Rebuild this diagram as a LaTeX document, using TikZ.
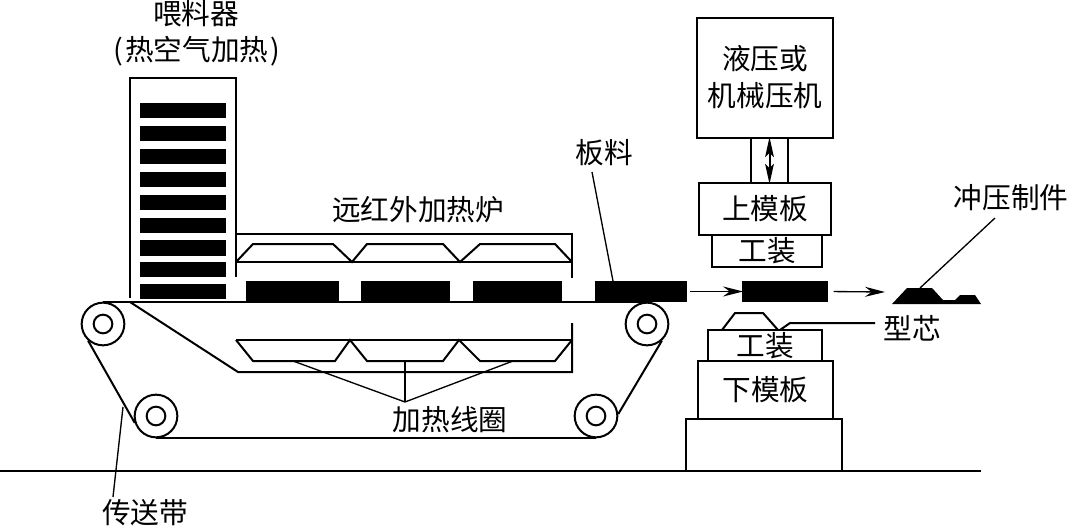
\documentclass[tikz,border=0pt]{standalone}
\usepackage{fontspec}
\setmainfont{Noto Sans CJK SC}
\usetikzlibrary{arrows.meta}
\tikzset{
  x=0.75pt,y=-0.75pt,
  ln/.style={draw=black,line width=1.5pt,line join=miter},
  thinln/.style={draw=black,line width=1pt},
  lab/.style={inner sep=0pt,font=\fontsize{21.5}{28.5}\selectfont,align=center,text=black},
  bar/.style={fill=black,draw=none,inner sep=0pt,minimum width=64.5pt,minimum height=11.5pt},
  sheet/.style={fill=black,draw=none,inner sep=0pt,minimum height=15.75pt,minimum width=#1*0.75pt},
  boxn/.style={ln,fill=white,inner sep=0pt,font=\fontsize{21.5}{28.5}\selectfont,align=center,text=black},
  rollo/.style={circle,ln,fill=white,inner sep=0pt,minimum size=32pt},
  rolli/.style={circle,ln,fill=white,inner sep=0pt,minimum size=14pt},
  flow/.style={thinln,-{Stealth[length=15pt,width=7.5pt,inset=5pt]}},
}
\begin{document}
\begin{tikzpicture}
\path[use as bounding box] (0,0) rectangle (1069,527);
% ground
\coordinate (g0) at (0,471); \coordinate (g1) at (981,471);
\draw[ln] (g0) -- (g1);
% feeder
\coordinate (fa) at (130,298); \coordinate (fb) at (130,78); \coordinate (fc) at (236,78); \coordinate (fd) at (236,277);
\draw[ln] (fa) -- (fb) -- (fc) -- (fd);
\foreach \i/\y in {a/110.5,b/133.5,c/156.5,d/179.5,e/202.5,f/225.5,g/248,h/269.5,j/291.5}{
  \node[bar] (bar\i) at (183,\y) {};
}
% upper furnace
\coordinate (ua) at (236,234); \coordinate (ub) at (572,234); \coordinate (uc) at (572,278);
\coordinate (ud) at (236,262); \coordinate (ue) at (572,262);
\draw[ln] (ua) -- (ub) -- (uc);
\draw[ln] (ud) -- (ue);
\draw[ln] (236,262) -- (253,244) -- (333,244) -- (352,262) -- (367,244) -- (443,244) -- (460,262) -- (480,244) -- (555,244) -- (572,262);
% sheets
\node[sheet=93] (sheetA) at (292.5,291.5) {};
\node[sheet=89] (sheetB) at (405.5,291.5) {};
\node[sheet=89] (sheetC) at (517.5,291.5) {};
\node[sheet=92] (sheetD) at (641,291.5) {};
\node[sheet=86] (sheetE) at (785,291.5) {};
% conveyor
\node[rollo] (rollA) at (103,324) {};
\node[rollo] (rollB) at (647,324) {};
\node[rollo] (rollC) at (156,416) {};
\node[rollo] (rollD) at (596,416) {};
\node[rolli] (hubA) at (103,324) {};
\node[rolli] (hubB) at (647,324) {};
\node[rolli] (hubC) at (156,416) {};
\node[rolli] (hubD) at (596,416) {};
\draw[ln] (rollA.90) -- (rollB.90);
\draw[ln] (rollC.270) -- (rollD.270);
\draw[ln] (rollA.228) -- (rollC.198);
\draw[ln] (rollB.312) -- (rollD.5);
% lower furnace
\coordinate (la) at (130,302); \coordinate (lb) at (238,372); \coordinate (lc) at (572,372); \coordinate (ld) at (572,323);
\draw[ln] (la) -- (lb) -- (lc) -- (ld);
\coordinate (le) at (236,340); \coordinate (lf) at (572,340);
\draw[ln] (le) -- (lf);
\draw[ln] (236,340) -- (253,361) -- (335,361) -- (350,340) -- (367,361) -- (443,361) -- (459,340) -- (480,361) -- (555,361) -- (572,340);
% press
\node[boxn,minimum width=102pt,minimum height=90pt] (press) at (765,78) {\raisebox{3pt}{\shortstack{液压或\\[5pt]机械压机}}};
\node[ln,fill=white,inner sep=0pt,minimum width=27.75pt,minimum height=33.75pt] (column) at (769.5,160.5) {};
\node[boxn,minimum width=99pt,minimum height=39pt] (upper) at (765,209) {上模板};
\node[boxn,minimum width=82.5pt,minimum height=24pt] (jigU) at (767,251) {工装};
\draw[draw=black,line width=1.5pt,{Stealth[length=15pt,width=6.5pt,inset=3pt]}-{Stealth[length=15pt,width=6.5pt,inset=3pt]}] (column.north) -- (column.south);
% lower stack
\coordinate (ca) at (722,330); \coordinate (cb) at (735,313); \coordinate (cc) at (763,313); \coordinate (cd) at (778,330);
\draw[ln] (ca) -- (cb) -- (cc) -- (cd);
\node[boxn,minimum width=85.5pt,minimum height=23.25pt] (jigL) at (765,345.5) {工装};
\node[boxn,minimum width=101.25pt,minimum height=43.5pt] (lower) at (765.5,390) {下模板};
\node[ln,fill=white,inner sep=0pt,minimum width=117pt,minimum height=39pt] (base) at (764,445) {};
% flow
\coordinate (prodIn) at (885,292);
\draw[flow,shorten <=2pt,shorten >=-1pt] (sheetD.east) -- (sheetE.west);
\draw[flow,shorten <=4pt] (sheetE.east) -- (prodIn);
% product
\coordinate (prodTop) at (920,288);
\fill[black] (892,304) -- (907,288) -- (932,288) -- (943,300) -- (955,300) -- (960,295) -- (975,295) -- (981,304) -- cycle;
% labels
\node[lab] (feeder) at (196,14) {喂料器};
\node[lab] (feederb) at (197,51) {(\kern1.5pt 热空气加热\kern1.5pt )};
\node[lab] (furn) at (418,210) {远红外加热炉};
\node[lab] (coil) at (450,420) {加热线圈};
\node[lab] (belt) at (145,513) {传送带};
\node[lab] (plate) at (604,153) {板料};
\node[lab] (prod) at (1011,198) {冲压制件};
\node[lab] (core) at (912,328) {型芯};
% leaders
\coordinate (apex) at (405,402);
\coordinate (c1) at (293,361); \coordinate (c2) at (405,361); \coordinate (c3) at (513,361);
\draw[thinln] (c1) -- (apex) -- (c3);
\draw[thinln] (c2) -- (apex);
\coordinate (beltPt) at (123,407); \coordinate (beltEnd) at (113,497);
\draw[thinln] (beltPt) -- (beltEnd);
\coordinate (plateStart) at (592,172); \coordinate (plateEnd) at (613,281);
\draw[thinln] (plateStart) -- (plateEnd);
\coordinate (prodEnd) at (995,218);
\draw[thinln] (prodEnd) -- (prodTop);
\coordinate (coreA) at (780,330); \coordinate (coreB) at (790,323); \coordinate (coreC) at (875,323);
\draw[ln] (coreA) -- (coreB) -- (coreC);
\end{tikzpicture}
\end{document}
